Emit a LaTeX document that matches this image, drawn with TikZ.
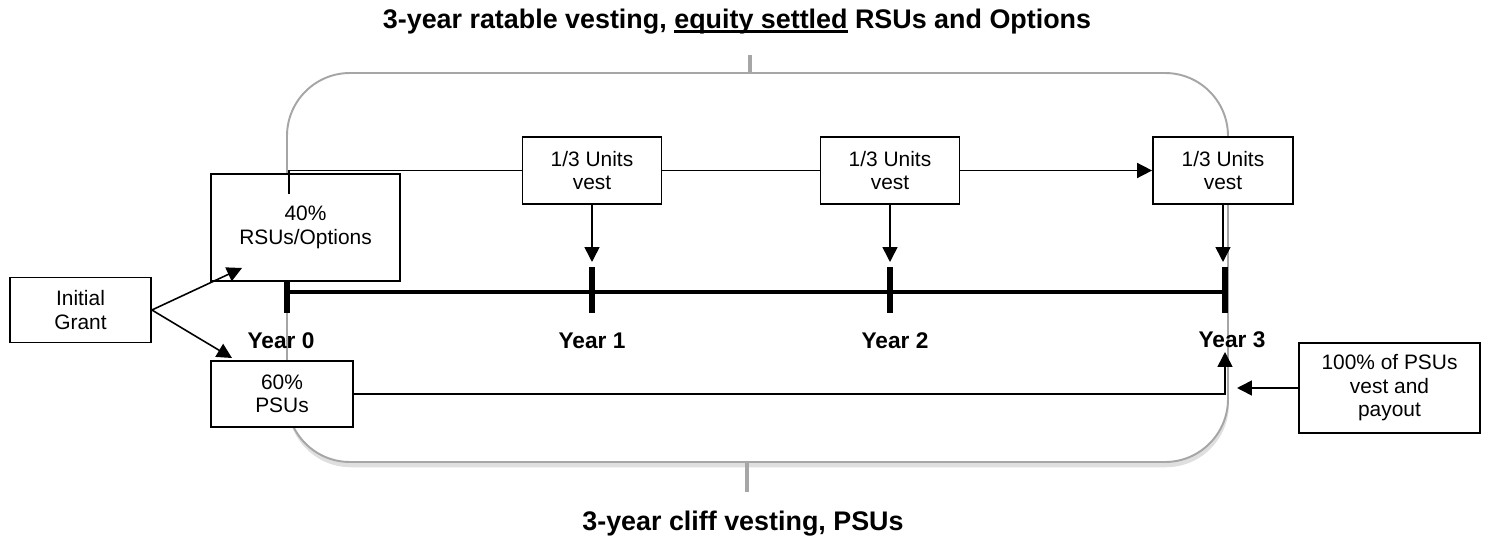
\documentclass[tikz,border=0pt]{standalone}
\usepackage{fontspec}
\setmainfont{Liberation Sans}
\usetikzlibrary{arrows.meta,shadows}

% underline close to the baseline
\newcommand{\ulbase}[1]{\setbox0\hbox{#1}\rlap{\rule[-2.2pt]{\wd0}{1.4pt}}\box0\relax}

\begin{document}
\begin{tikzpicture}[
    box/.style={draw, line width=1pt, fill=white, align=center, inner sep=2pt, font=\fontsize{11.9}{13.4}\selectfont},
    link/.style={line width=0.9pt},
    arr/.style={link, -{Triangle[width=8.5pt,length=8.5pt]}},
    yr/.style={font=\fontsize{12.9}{15}\selectfont\bfseries},
    ttl/.style={font=\fontsize{15.3}{18}\selectfont\bfseries},
    gtick/.style={draw=black!35, line width=2.8pt},
    tick/.style={line width=3.4pt}
]
\useasboundingbox (0,0) rectangle (29.72,-10.74);

% Titles
\node[ttl] (ttop) at (14.74,-0.44) {3-year ratable vesting, \ulbase{equity settled} RSUs and Options};
\node[ttl] (tbot) at (14.86,-10.48) {3-year cliff vesting, PSUs};

% Vesting window
\node[draw=black!35, line width=1.1pt, fill=white, rounded corners=1.26cm, minimum width=18.82cm, minimum height=7.78cm,
      drop shadow={shadow xshift=0.5pt, shadow yshift=-3pt, opacity=0.25}] (zone) at (15.15,-5.35) {};
\coordinate (kt) at (15.0,-1.1);
\coordinate (kb) at (14.94,-9.84);
\draw[gtick] (kt) -- (kt |- zone.north);
\draw[gtick] (kb) -- (kb |- zone.south);

% Timeline
\coordinate (y0) at (5.74,-5.84);
\coordinate (y1) at (11.84,-5.84);
\coordinate (y2) at (17.8,-5.84);
\coordinate (y3) at (24.5,-5.84);
\draw[line width=2.8pt] (y0) -- (y3);
\foreach \t in {y0,y1,y2,y3}
    \draw[tick] ([yshift=0.5cm]\t) -- ([yshift=-0.42cm]\t);

\node[yr] (l0) at (5.62,-6.82) {Year 0};
\node[yr] (l1) at (11.84,-6.82) {Year 1};
\node[yr] (l2) at (17.9,-6.82) {Year 2};
\node[yr] (l3) at (24.64,-6.8) {Year 3};

% Boxes
\node[box, minimum width=2.82cm, minimum height=1.3cm] (grant) at (1.61,-6.2) {Initial\\Grant};
\node[box, minimum width=3.78cm, minimum height=2.14cm] (r40) at (6.11,-4.55) {40\%\\RSUs/Options};
\node[box, minimum width=2.78cm, minimum height=1.34cm] (u1) at (11.84,-3.41) {1/3 Units\\vest};
\node[box, minimum width=2.78cm, minimum height=1.34cm] (u2) at (17.8,-3.41) {1/3 Units\\vest};
\node[box, minimum width=2.8cm, minimum height=1.34cm] (u3) at (24.46,-3.41) {1/3 Units\\vest};
\node[box, minimum width=2.84cm, minimum height=1.32cm] (p60) at (5.64,-7.88) {60\%\\PSUs};
\node[box, minimum width=3.62cm, minimum height=1.8cm] (p100) at (27.79,-7.76) {100\% of PSUs\\vest and\\payout};

% Connectors
\coordinate (s0) at (5.78,-3.88);
\coordinate (lt) at (0,-5.24);
\coordinate (a40) at (4.84,-5.36);
\coordinate (a60) at (4.64,-7.16);
\coordinate (c3) at (24.5,-7.04);
\coordinate (c4) at (24.74,-7.76);
\draw[link] (s0) |- (u1.west);
\draw[link] (u1.east) -- (u2.west);
\draw[arr] (u2.east) -- (u3.west);
\foreach \u in {u1,u2,u3}
    \draw[arr] (\u.south) -- (\u.south |- lt);
\draw[arr] (grant.east) -- (a40);
\draw[arr] (grant.east) -- (a60);
\draw[arr] (p60.east) -| (c3);
\draw[arr] (p100.west) -- (c4);
\end{tikzpicture}
\end{document}
